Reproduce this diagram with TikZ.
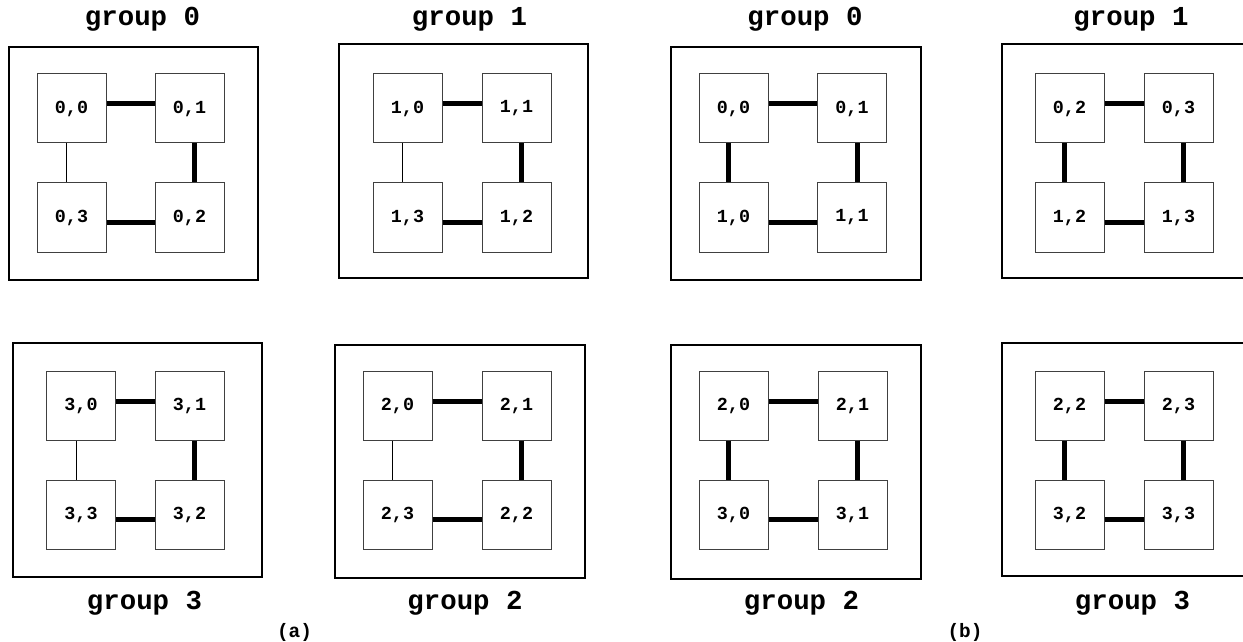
\documentclass[tikz,border=0pt]{standalone}
\usepackage{fontspec}
\setmonofont{Liberation Mono}
\begin{document}
\begin{tikzpicture}[x=0.5pt,y=-0.5pt,
  cellbox/.style={draw=black!75,line width=0.5pt,minimum size=34.5pt,inner sep=0pt,
    font=\fontsize{9.2}{11}\selectfont\ttfamily\bfseries},
  outerbox/.style={draw=black,line width=1pt},
  titletext/.style={anchor=base,inner sep=0pt,font=\fontsize{13.7}{16}\selectfont\ttfamily\bfseries},
  subcap/.style={anchor=base,inner sep=0pt,font=\fontsize{9.7}{12}\selectfont\ttfamily\bfseries},
  thicklink/.style={line width=2.5pt},
  thinlink/.style={line width=0.5pt}]
\useasboundingbox (0,0) rectangle (1243,642);
\newcommand\mkgroup[9]{%
  \node[cellbox] (#1tl) at (#2,#4) {#6};
  \node[cellbox] (#1tr) at (#3,#4) {#7};
  \node[cellbox] (#1bl) at (#2,#5) {#8};
  \node[cellbox] (#1br) at (#3,#5) {#9};}
\newcommand\mklinks[2]{%
  \draw[thicklink] ([yshift=2.25pt]#1tl.east) -- ([yshift=2.25pt]#1tr.west);
  \draw[thicklink] ([yshift=-2.25pt]#1bl.east) -- ([yshift=-2.25pt]#1br.west);
  \draw[thicklink] ([xshift=2.5pt]#1tr.south) -- ([xshift=2.5pt]#1br.north);
  \draw[#2] ([xshift=-2.5pt]#1tl.south) -- ([xshift=-2.5pt]#1bl.north);}
% ---------- (a) ----------
\draw[outerbox] (9,47) rectangle (258,280);
\node[titletext] (ta0) at (142.5,26) {group 0};
\mkgroup{aa}{71.5}{189.5}{108.5}{217.5}{0,0}{0,1}{0,3}{0,2}
\mklinks{aa}{thinlink}

\draw[outerbox] (339,44) rectangle (588,278);
\node[titletext] (ta1) at (469.5,26) {group 1};
\mkgroup{ab}{407.5}{516.5}{108.5}{217.5}{1,0}{1,1}{1,3}{1,2}
\mklinks{ab}{thinlink}

\draw[outerbox] (13,343) rectangle (262,577);
\node[titletext] (ta3) at (144.5,609) {group 3};
\mkgroup{ad}{81}{189.5}{405.5}{514.5}{3,0}{3,1}{3,3}{3,2}
\mklinks{ad}{thinlink}

\draw[outerbox] (335,345) rectangle (585,578);
\node[titletext] (ta2) at (465,609) {group 2};
\mkgroup{ac}{397.5}{516.5}{405.5}{514.5}{2,0}{2,1}{2,3}{2,2}
\mklinks{ac}{thinlink}

\node[subcap] (capa) at (294.5,637) {(a)};
% ---------- (b) ----------
\draw[outerbox] (671,47) rectangle (921,280);
\node[titletext] (tb0) at (805,26) {group 0};
\mkgroup{ba}{733.5}{852}{108.5}{217.5}{0,0}{0,1}{1,0}{1,1}
\mklinks{ba}{thicklink}

\draw[outerbox] (1002,44) rectangle (1251,278);
\node[titletext] (tb1) at (1131,26) {group 1};
\mkgroup{bb}{1069.5}{1178.5}{108.5}{217.5}{0,2}{0,3}{1,2}{1,3}
\mklinks{bb}{thicklink}

\draw[outerbox] (671,345) rectangle (921,579);
\node[titletext] (tb2) at (801.5,609) {group 2};
\mkgroup{bc}{733.5}{852.5}{405.5}{514.5}{2,0}{2,1}{3,0}{3,1}
\mklinks{bc}{thicklink}

\draw[outerbox] (1002,343) rectangle (1251,576);
\node[titletext] (tb3) at (1132.5,609) {group 3};
\mkgroup{bd}{1069.5}{1178.5}{405.5}{514.5}{2,2}{2,3}{3,2}{3,3}
\mklinks{bd}{thicklink}

\node[subcap] (capb) at (965,637) {(b)};
\end{tikzpicture}
\end{document}
